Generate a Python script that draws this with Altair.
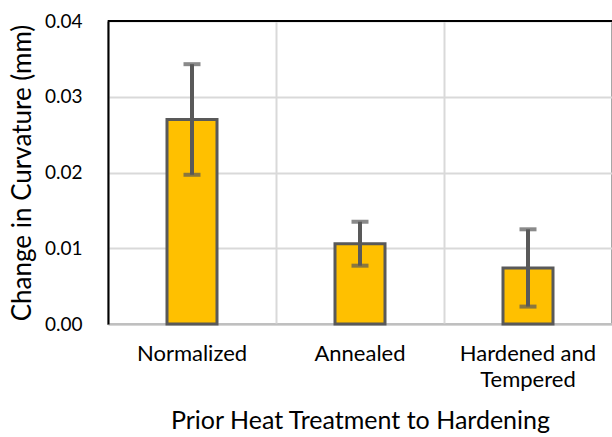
import altair as alt
import pandas as pd

# Mean change in curvature and its spread for each prior heat treatment
treatments = ["Normalized", "Annealed", "Hardened and Tempered"]
mean_change = [0.0270, 0.0106, 0.0074]
spread = [0.0073, 0.0029, 0.0051]

df = pd.DataFrame({
    "treatment": treatments,
    "change": mean_change,
    "low": [m - s for m, s in zip(mean_change, spread)],
    "high": [m + s for m, s in zip(mean_change, spread)],
})

FONT = "Lato"
DARK = "#595959"

x_enc = alt.X(
    "treatment:N",
    sort=treatments,
    title="Prior Heat Treatment to Hardening",
    scale=alt.Scale(paddingInner=0, paddingOuter=0),
    axis=alt.Axis(
        labelAngle=0,
        labelFontSize=22,
        labelColor="#000000",
        labelFont=FONT,
        labelPadding=19,
        labelLineHeight=26,
        labelExpr="datum.label == 'Hardened and Tempered' ? ['Hardened and', 'Tempered'] : datum.label",
        ticks=False,
        domain=True,
        domainColor="#BFBFBF",
        domainWidth=2,
        grid=True,
        gridColor="#D9D9D9",
        gridWidth=2,
        bandPosition=0,
        titleFontSize=25,
        titleFont=FONT,
        titleFontWeight="normal",
        titleColor="#000000",
        titlePadding=18,
    ),
)

y_scale = alt.Scale(domain=[0, 0.04], nice=False)
y_enc = alt.Y(
    "change:Q",
    scale=y_scale,
    title="Change in Curvature (mm)",
    axis=alt.Axis(
        values=[0, 0.01, 0.02, 0.03, 0.04],
        format=".2f",
        labelFontSize=19,
        labelFont=FONT,
        labelColor="#000000",
        labelPadding=26,
        ticks=False,
        domain=True,
        domainColor="#000000",
        domainWidth=2,
        grid=True,
        gridColor="#D9D9D9",
        gridWidth=2,
        titleFontSize=26,
        titleFont=FONT,
        titleFontWeight="normal",
        titleColor="#000000",
        titlePadding=9,
    ),
)

bars = alt.Chart(df).mark_bar(
    size=50, color="#FFC000", stroke=DARK, strokeWidth=3
).encode(x=x_enc, y=y_enc)

whisker = alt.Chart(df).mark_rule(color=DARK, strokeWidth=4).encode(
    x=alt.X("treatment:N", sort=treatments),
    y=alt.Y("low:Q", scale=y_scale),
    y2="high:Q",
)

cap_low = alt.Chart(df).mark_tick(color=DARK, size=17, thickness=4).encode(
    x=alt.X("treatment:N", sort=treatments),
    y=alt.Y("low:Q", scale=y_scale),
)
cap_high = alt.Chart(df).mark_tick(color=DARK, size=17, thickness=4).encode(
    x=alt.X("treatment:N", sort=treatments),
    y=alt.Y("high:Q", scale=y_scale),
)

top_edge = alt.Chart(df).mark_rule(color="#000000", strokeWidth=2).encode(
    x=alt.value(0), x2=alt.value(504), y=alt.value(0)
)

chart = (
    alt.layer(bars, whisker, cap_low, cap_high, top_edge)
    .properties(
        width=504,
        height=303,
        autosize=alt.AutoSizeParams(type="none"),
        padding={"left": 108, "top": 21, "right": 0, "bottom": 113},
        background="#FFFFFF",
    )
    .configure_view(stroke="#A6A6A6", strokeWidth=2)
)

chart.save("out.html", embed_options={"renderer": "svg", "actions": False})
